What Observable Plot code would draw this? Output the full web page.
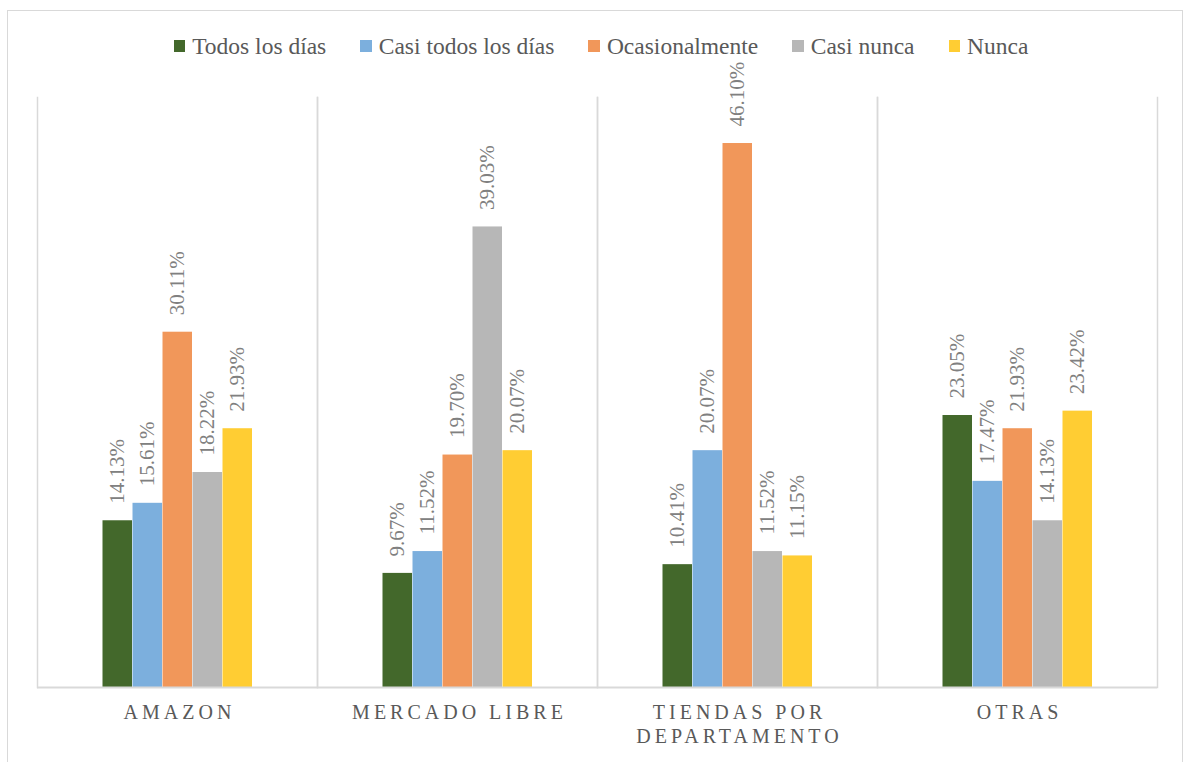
<!DOCTYPE html>
<html>
<head>
<meta charset="utf-8">
<script src="https://cdn.jsdelivr.net/npm/d3@7"></script>
<script src="https://cdn.jsdelivr.net/npm/@observablehq/plot@0.6"></script>
<style>
  html, body { margin: 0; padding: 0; background: #fff; }
  #wrap { position: relative; width: 1186px; height: 762px; overflow: hidden; font-family: 'Times New Roman', 'Liberation Serif', 'DejaVu Serif', serif; }
  #border { position: absolute; left: 7px; top: 10px; width: 1176px; height: 800px; border: 1.5px solid #d9d9d9; box-sizing: border-box; pointer-events: none; z-index: 2; }
  #legend { height: 34px; margin-top: 29px; display: flex; justify-content: center; align-items: center; padding-left: 16px; font-size: 23.5px; color: #595959; }
  .item { display: flex; align-items: center; margin: 0 17px; }
  .sw { width: 11.5px; height: 11.5px; margin-right: 7px; }
  #chart svg { overflow: visible; display: block; }
  #chart svg text { font-family: 'Times New Roman', 'Liberation Serif', 'DejaVu Serif', serif; }
  #chart g[aria-label^="fx-axis"] text { letter-spacing: 4px; }
</style>
</head>
<body>
<div id="wrap">
  <div id="border"></div>
  <div id="legend"></div>
  <div id="chart"></div>
</div>
<script>
const categories = ["Amazon", "Mercado Libre", "Tiendas por departamento", "Otras"];
const xTickLabels = ["AMAZON", "MERCADO LIBRE", "TIENDAS POR\nDEPARTAMENTO", "OTRAS"];
const series = ["Todos los días", "Casi todos los días", "Ocasionalmente", "Casi nunca", "Nunca"];
const colors = ["#43682B", "#7CAFDD", "#F1975A", "#B7B7B7", "#FFCD33"];

const todosLosDias     = [14.13, 9.67, 10.41, 23.05];
const casiTodosLosDias = [15.61, 11.52, 20.07, 17.47];
const ocasionalmente   = [30.11, 19.70, 46.10, 21.93];
const casiNunca        = [18.22, 39.03, 11.52, 14.13];
const nunca            = [21.93, 20.07, 11.15, 23.42];

const seriesValues = [todosLosDias, casiTodosLosDias, ocasionalmente, casiNunca, nunca];

const table = [];
categories.forEach((c, ci) => {
  series.forEach((s, si) => {
    table.push({category: c, series: s, value: seriesValues[si][ci]});
  });
});

// legend
const legend = document.getElementById("legend");
series.forEach((s, i) => {
  const item = document.createElement("div");
  item.className = "item";
  const sw = document.createElement("div");
  sw.className = "sw";
  sw.style.background = colors[i];
  const t = document.createElement("span");
  t.textContent = s;
  item.appendChild(sw);
  item.appendChild(t);
  legend.appendChild(item);
});

const serif = "'Times New Roman', 'Liberation Serif', 'DejaVu Serif', serif";

const chart = Plot.plot({
  width: 1186,
  height: 699,
  marginLeft: 37,
  marginRight: 29,
  marginTop: 34,
  marginBottom: 75,
  style: {background: "transparent", overflow: "visible"},
  fx: {domain: categories, padding: 0, label: null},
  x: {domain: series, paddingInner: 0, paddingOuter: 65 / 30, axis: null},
  y: {domain: [0, 50], axis: null},
  color: {domain: series, range: colors},
  marks: [
    Plot.frame({anchor: "left", stroke: "#d9d9d9", strokeWidth: 1.5}),
    Plot.frame({anchor: "right", stroke: "#d9d9d9", strokeWidth: 1.5}),
    Plot.barY(table, {fx: "category", x: "series", y: "value", fill: "series", insetLeft: 0.5, insetRight: 0}),
    Plot.ruleY([0], {stroke: "#d9d9d9", strokeWidth: 2}),
    Plot.text(table, {
      fx: "category", x: "series", y: "value",
      text: d => d.value.toFixed(2) + "%",
      rotate: -90, textAnchor: "start", dy: -17,
      fill: "#808080", fontSize: 21, fontFamily: serif
    }),
    Plot.axisFx({
      anchor: "bottom", tickSize: 0, tickPadding: 14, label: null,
      tickFormat: d => xTickLabels[categories.indexOf(d)],
      fontSize: 20, lineHeight: 1.2, fill: "#595959", dx: 2, fontFamily: serif
    })
  ]
});
document.getElementById("chart").appendChild(chart);
</script>
</body>
</html>
